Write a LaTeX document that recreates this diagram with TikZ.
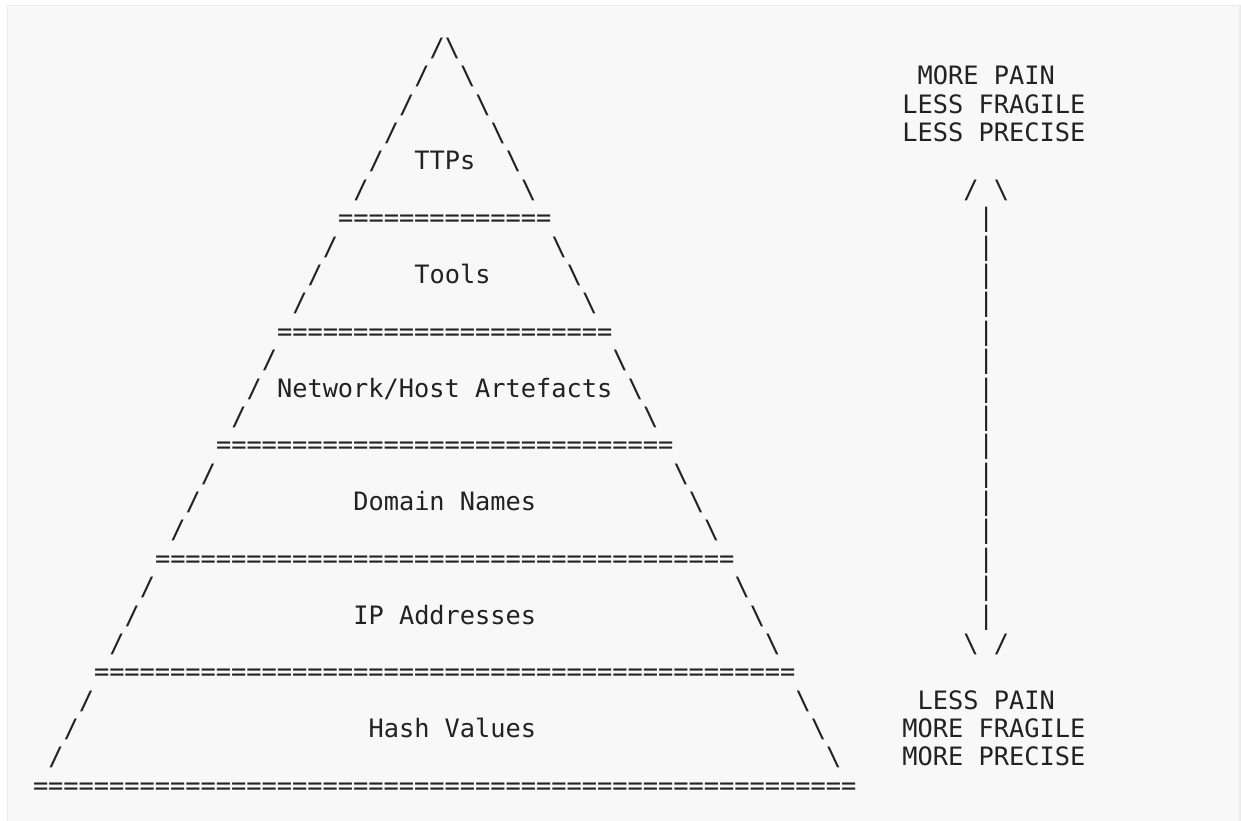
\documentclass[tikz,border=0pt]{standalone}
\usepackage{fontspec}
\newfontfamily\asciimono{DejaVu Sans Mono}
\definecolor{ink}{HTML}{222222}
\definecolor{paper}{HTML}{F8F8F8}
\definecolor{rim}{HTML}{EBEBEB}
\newcommand{\cx}[1]{33+15.25*(#1)}
\newcommand{\ry}[1]{56.5+28.375*((#1)-1)}
\begin{document}
\begin{tikzpicture}[x=1pt,y=-1pt,
  ch/.style={inner sep=0pt,outer sep=0pt,anchor=base west,text=ink,
    font=\asciimono\fontsize{25.33}{28.4}\selectfont}]
\fill[white] (0,0) rectangle (1241,821);
\useasboundingbox (0,0) rectangle (1241,821);
\begin{scope}
\clip (0,0) rectangle (1241,821);
\filldraw[fill=paper,draw=rim,line width=1.5pt] (7.5,5.5) rectangle (1240.2,840);
\end{scope}
% pyramid sides and floors
\foreach \r in {1,...,27}{
  \pgfmathtruncatemacro\m{mod(\r,4)}
  \pgfmathtruncatemacro\lc{27-\r}
  \pgfmathtruncatemacro\rc{26+\r}
  \pgfmathtruncatemacro\n{2*\r}
  \pgfmathtruncatemacro\isfloor{(\m==3)&&(\r>6)}
  \ifnum\isfloor=1
    \node[ch] (eq\r) at ({\cx{\lc}},{\ry{\r}}) {\foreach\i in {1,...,\n}{=}};
  \else
    \node[ch] (ls\r) at ({\cx{\lc}},{\ry{\r}}) {/};
    \node[ch] (rs\r) at ({\cx{\rc}},{\ry{\r}}) {\textbackslash};
  \fi
}
% layer labels
\node[ch] (ttps)    at ({\cx{25}},{\ry{5}})  {TTPs};
\node[ch] (tools)   at ({\cx{25}},{\ry{9}})  {Tools};
\node[ch] (netart)  at ({\cx{16}},{\ry{13}}) {Network/Host Artefacts};
\node[ch] (domain)  at ({\cx{21}},{\ry{17}}) {Domain Names};
\node[ch] (ipaddr)  at ({\cx{21}},{\ry{21}}) {IP Addresses};
\node[ch] (hashval) at ({\cx{22}},{\ry{25}}) {Hash Values};
% right-hand scale
\node[ch] (top1) at ({\cx{58}},{\ry{2}}) {MORE PAIN};
\node[ch] (top2) at ({\cx{57}},{\ry{3}}) {LESS FRAGILE};
\node[ch] (top3) at ({\cx{57}},{\ry{4}}) {LESS PRECISE};
\node[ch] (uphl) at ({\cx{61}},{\ry{6}}) {/};
\node[ch] (uphr) at ({\cx{63}},{\ry{6}}) {\textbackslash};
\foreach \r in {7,...,21}{
  \node[ch] (bar\r) at ({\cx{62}},{\ry{\r}}) {|};
}
\node[ch] (dnhl) at ({\cx{61}},{\ry{22}}) {\textbackslash};
\node[ch] (dnhr) at ({\cx{63}},{\ry{22}}) {/};
\node[ch] (bot1) at ({\cx{58}},{\ry{24}}) {LESS PAIN};
\node[ch] (bot2) at ({\cx{57}},{\ry{25}}) {MORE FRAGILE};
\node[ch] (bot3) at ({\cx{57}},{\ry{26}}) {MORE PRECISE};
\end{tikzpicture}
\end{document}
